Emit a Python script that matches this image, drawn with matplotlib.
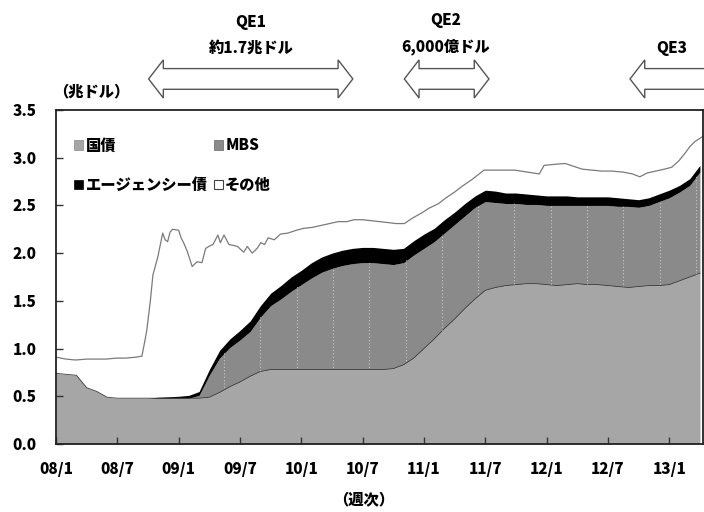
import numpy as np
import matplotlib
matplotlib.use("Agg")
import matplotlib.pyplot as plt
from matplotlib.patches import Patch, Polygon
import matplotlib.transforms as mtransforms

plt.rcParams['font.family'] = ['Noto Sans CJK JP', 'DejaVu Sans']
plt.rcParams['font.weight'] = 'heavy'

# monthly points, 2008/1 .. 2013/4 (trillion dollars)
months = 2008 + np.arange(64) / 12

treasury = [0.74, 0.73, 0.72, 0.59, 0.55, 0.49, 0.48, 0.48, 0.48, 0.48,
            0.48, 0.48, 0.48, 0.48, 0.48, 0.49, 0.54, 0.60, 0.65, 0.71,
            0.76, 0.78, 0.78, 0.78, 0.78, 0.78, 0.78, 0.78, 0.78, 0.78,
            0.78, 0.78, 0.78, 0.79, 0.83, 0.90, 1.00, 1.10, 1.21, 1.31,
            1.42, 1.52, 1.61, 1.64, 1.66, 1.67, 1.68, 1.68, 1.67, 1.66,
            1.67, 1.68, 1.67, 1.67, 1.66, 1.65, 1.64, 1.65, 1.66, 1.66,
            1.67, 1.71, 1.75, 1.79]

mbs = [0, 0, 0, 0, 0, 0, 0, 0, 0, 0,
       0, 0, 0, 0, 0.03, 0.23, 0.36, 0.41, 0.44, 0.47,
       0.57, 0.67, 0.74, 0.82, 0.89, 0.96, 1.02, 1.06, 1.09, 1.11,
       1.12, 1.12, 1.11, 1.09, 1.07, 1.08, 1.05, 1.02, 1.00, 0.99,
       0.97, 0.96, 0.93, 0.89, 0.86, 0.85, 0.83, 0.83, 0.83, 0.84,
       0.83, 0.82, 0.83, 0.83, 0.84, 0.84, 0.85, 0.83, 0.84, 0.88,
       0.91, 0.93, 0.96, 1.06]

agency = [0, 0, 0, 0, 0, 0, 0, 0, 0, 0,
          0.01, 0.015, 0.02, 0.03, 0.04, 0.06, 0.08, 0.09, 0.10, 0.11,
          0.12, 0.13, 0.14, 0.15, 0.15, 0.16, 0.16, 0.16, 0.16, 0.16,
          0.16, 0.16, 0.16, 0.16, 0.15, 0.15, 0.15, 0.14, 0.14, 0.13,
          0.13, 0.12, 0.12, 0.12, 0.11, 0.11, 0.11, 0.10, 0.10, 0.10,
          0.10, 0.09, 0.09, 0.09, 0.09, 0.09, 0.08, 0.08, 0.08, 0.08,
          0.08, 0.07, 0.07, 0.07]

# total assets (top line, "その他" on top of the rest)
total_dates = [2008.00, 2008.08, 2008.16, 2008.25, 2008.33, 2008.41, 2008.49, 2008.57,
               2008.65, 2008.70, 2008.72, 2008.74, 2008.77, 2008.79, 2008.83, 2008.87,
               2008.89, 2008.91, 2008.93, 2008.95, 2009.00, 2009.02, 2009.04, 2009.07,
               2009.11, 2009.15, 2009.19, 2009.22, 2009.26, 2009.28, 2009.32, 2009.34,
               2009.37, 2009.41, 2009.45, 2009.48, 2009.53, 2009.56, 2009.60, 2009.64,
               2009.67, 2009.70, 2009.73, 2009.78, 2009.83, 2009.89, 2009.96, 2010.02,
               2010.09, 2010.16, 2010.23, 2010.30, 2010.37, 2010.43, 2010.50, 2010.57,
               2010.64, 2010.71, 2010.77, 2010.84, 2010.91, 2010.98, 2011.04, 2011.12,
               2011.18, 2011.25, 2011.31, 2011.39, 2011.45, 2011.49, 2011.59, 2011.67,
               2011.74, 2011.84, 2011.94, 2011.98, 2012.06, 2012.15, 2012.22, 2012.29,
               2012.37, 2012.45, 2012.53, 2012.62, 2012.70, 2012.76, 2012.82, 2012.89,
               2012.96, 2013.02, 2013.08, 2013.13, 2013.17, 2013.21, 2013.27]
total = [0.91, 0.89, 0.88, 0.89, 0.89, 0.89, 0.90, 0.90,
         0.91, 0.92, 1.05, 1.19, 1.51, 1.77, 1.96, 2.21,
         2.14, 2.12, 2.22, 2.25, 2.24, 2.16, 2.11, 2.02,
         1.86, 1.91, 1.90, 2.05, 2.08, 2.09, 2.19, 2.11,
         2.19, 2.09, 2.08, 2.07, 2.01, 2.07, 2.00, 2.05,
         2.11, 2.09, 2.16, 2.14, 2.20, 2.21, 2.24, 2.26,
         2.27, 2.29, 2.31, 2.33, 2.33, 2.35, 2.35, 2.34,
         2.33, 2.32, 2.31, 2.31, 2.37, 2.42, 2.47, 2.52,
         2.58, 2.64, 2.70, 2.77, 2.83, 2.87, 2.87, 2.87,
         2.87, 2.85, 2.83, 2.92, 2.93, 2.94, 2.91, 2.88,
         2.87, 2.86, 2.86, 2.85, 2.83, 2.80, 2.84, 2.86,
         2.88, 2.90, 2.97, 3.05, 3.12, 3.17, 3.22]

tick_pos = [2008.0, 2008.5, 2009.0, 2009.5, 2010.0, 2010.5,
            2011.0, 2011.5, 2012.0, 2012.5, 2013.0]
tick_labels = ['08/1', '08/7', '09/1', '09/7', '10/1', '10/7',
               '11/1', '11/7', '12/1', '12/7', '13/1']

c_tsy = '#a6a6a6'
c_mbs = '#8a8a8a'

t = np.array(treasury)
m = np.array(mbs)
a = np.array(agency)

fig = plt.figure(figsize=(7.04, 5.12), dpi=100)
ax = fig.add_axes([56 / 704, 1 - 444 / 512, 647 / 704, 334 / 512])

ax.fill_between(months, 0, t, color=c_tsy, lw=0)
mbs_poly = ax.fill_between(months, t, t + m, color=c_mbs, lw=0)
ax.fill_between(months, t + m, t + m + a, color='black', lw=0)
ax.plot(months, t, color='#3a3a3a', lw=0.6)
ax.plot(total_dates, total, color='#7a7a7a', lw=0.9)

# the dotted light streaks seen through the MBS fill
streaks = ax.vlines(np.arange(2009.37, 2013.3, 0.296), 0, 3.5,
                    colors='#c8c8c8', linestyles=(0, (1, 2)), lw=0.8)
streaks.set_clip_path(mbs_poly.get_paths()[0], transform=ax.transData)

ax.set_xlim(2008.0, 2013.275)
ax.set_ylim(0, 3.5)
ax.set_xticks(tick_pos)
ax.set_xticklabels(tick_labels)
ax.set_yticks(np.arange(0, 3.51, 0.5))
ax.set_yticklabels(['%.1f' % v for v in np.arange(0, 3.51, 0.5)])
ax.tick_params(axis='both', direction='in', length=5, width=1, colors='#333333',
               labelcolor='black', labelsize=11)
ax.tick_params(axis='x', pad=13)
ax.tick_params(axis='y', pad=14)
for s in ax.spines.values():
    s.set_linewidth(1.3)
    s.set_color('#222222')

handles = [Patch(facecolor=c_tsy, edgecolor='#888888', lw=0.5),
           Patch(facecolor='black', edgecolor='black', lw=0.5),
           Patch(facecolor=c_mbs, edgecolor='#666666', lw=0.5),
           Patch(facecolor='white', edgecolor='#444444', lw=0.8)]
labels = ['国債', 'エージェンシー債', 'MBS', 'その他']
ax.legend(handles, labels, ncol=2, loc='upper left', bbox_to_anchor=(0.028, 0.915),
          frameon=False, fontsize=11, handlelength=0.6, handleheight=0.6,
          handletextpad=0.15, columnspacing=0.4, labelspacing=1.6, borderpad=0,
          borderaxespad=0)

ax.text(-0.005, 1.053, '（兆ドル）', transform=ax.transAxes, fontsize=11,
        ha='left', va='center')
fig.text(364 / 704, 1 - 500 / 512, '（週次）', fontsize=11, ha='center', va='center')

# QE arrows above the plot: x in data units, y in axes fraction
trans = mtransforms.blended_transform_factory(ax.transData, ax.transAxes)
yc, H, S, h = 1.093, 0.057, 0.031, 0.12


def double_arrow(x0, x1):
    pts = [(x0, yc), (x0 + h, yc + H), (x0 + h, yc + S), (x1 - h, yc + S),
           (x1 - h, yc + H), (x1, yc), (x1 - h, yc - H), (x1 - h, yc - S),
           (x0 + h, yc - S), (x0 + h, yc - H)]
    ax.add_patch(Polygon(pts, closed=True, transform=trans, clip_on=False,
                         facecolor='white', edgecolor='#555555', lw=1.0))


double_arrow(2008.755, 2010.42)
double_arrow(2010.84, 2011.53)
x0, xr = 2012.68, 2013.40
ax.add_patch(Polygon([(x0, yc), (x0 + h, yc + H), (x0 + h, yc + S), (xr, yc + S),
                      (xr, yc - S), (x0 + h, yc - S), (x0 + h, yc - H)],
                     closed=True, transform=trans, clip_on=False,
                     facecolor='white', edgecolor='#555555', lw=1.0))

ax.text(2009.59, (444 - 23) / 334, 'QE1', transform=trans, fontsize=11,
        ha='center', va='center')
ax.text(2009.59, (444 - 48) / 334, '約1.7兆ドル', transform=trans, fontsize=11,
        ha='center', va='center')
ax.text(2011.18, (444 - 21) / 334, 'QE2', transform=trans, fontsize=11,
        ha='center', va='center')
ax.text(2011.18, (444 - 47) / 334, '6,000億ドル', transform=trans, fontsize=11,
        ha='center', va='center')
ax.text(2013.02, (444 - 48) / 334, 'QE3', transform=trans, fontsize=11,
        ha='center', va='center')

fig.savefig('out.png', dpi=100, facecolor='white')
